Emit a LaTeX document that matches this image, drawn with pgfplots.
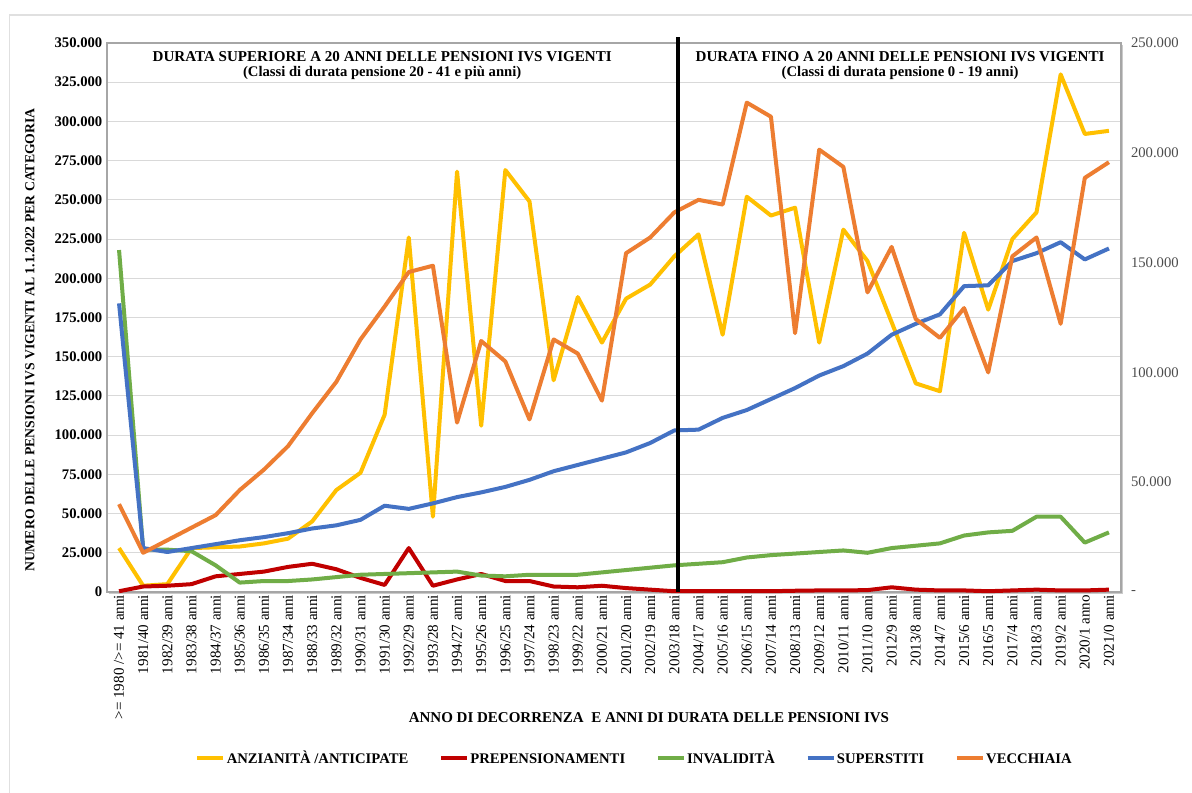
\documentclass[border=0pt]{standalone}
\usepackage{fontspec}
\setmainfont{Liberation Serif}
\usepackage{pgfplots}
\usepackage{pgfplotstable}
\pgfplotsset{compat=1.18}
\usetikzlibrary{shadows}

\definecolor{cAnz}{HTML}{FFC000}
\definecolor{cPre}{HTML}{C00000}
\definecolor{cInv}{HTML}{70AD47}
\definecolor{cSup}{HTML}{4472C4}
\definecolor{cVec}{HTML}{ED7D31}
\definecolor{cGrid}{HTML}{D9D9D9}
\definecolor{cFrame}{HTML}{A6A6A6}

% numero pensioni vigenti (migliaia) per anno di decorrenza
\pgfplotstableread{
i  anz  pre  inv  sup   vec
0  28   0.5  218  184   56
1  4    3.5  27   28    25
2  5    4    27   25.5  33
3  28   5    26   28    41
4  28.5 10   17   30.5  49
5  29   11.5 6    33    65
6  31   13   7    35    78
7  34   16   7    37.5  93
8  45   18   8    40.5  114
9  65   14.5 9.5  42.5  134
10 76   9    11   46    161
11 113  4.5  11.5 55    182
12 226  28   12   53    204
13 48   4    12.5 56.5  208
14 268  8    13   60.5  108
15 106  11.5 10.5 63.5  160
16 269  7    10   67    147
17 249  7    11   71.5  110
18 135  3.5  11   77    161
19 188  3    11   81    152
20 159  4    12.5 85    122
21 187  2.5  14   89    216
22 196  1.5  15.5 95    226
23 214  0.5  17   103   242
24 228  0.5  18   103.5 250
25 164  0.5  19   111   247
26 252  0.5  22   116   312
27 240  0.5  23.5 123   303
28 245  0.8  24.5 130   165
29 159  1    25.5 138   282
30 231  1    26.5 144   271
31 211  1.2  25   152   191
32 172  3    28   164   220
33 133  1.5  29.5 171   174
34 128  1    31   177   162
35 229  1    36   195   181
36 180  0.5  38   195.5 140
37 225  1    39   211   214
38 242  1.5  48   216   226
39 330  1    48   223   171
40 292  1    31.5 212   264
41 294  1.5  38   219   274
}\ivs

\begin{document}
\begin{tikzpicture}
\begin{axis}[
  name=main,
  scale only axis, width=760.5pt, height=411.75pt,
  xmin=-0.5, xmax=41.5, ymin=0, ymax=350,
  clip=false,
  axis background/.style={fill=white,
    drop shadow={shadow xshift=1.8pt, shadow yshift=-1.8pt, fill=black!35, opacity=0.6}},
  axis line style={draw=cFrame, line width=1.1pt},
  ymajorgrids, grid style={cGrid, line width=0.8pt},
  major tick length=0pt,
  ytick={0,25,...,350},
  yticklabels={0,25.000,50.000,75.000,100.000,125.000,150.000,175.000,200.000,225.000,250.000,275.000,300.000,325.000,350.000},
  yticklabel style={font=\bfseries\fontsize{11}{12}\selectfont},
  xtick={0,...,41},
  xticklabels={{>= 1980 />= 41 anni},1981/40 anni,1982/39 anni,1983/38 anni,1984/37 anni,1985/36 anni,1986/35 anni,1987/34 anni,1988/33 anni,1989/32 anni,1990/31 anni,1991/30 anni,1992/29 anni,1993/28 anni,1994/27 anni,1995/26 anni,1996/25 anni,1997/24 anni,1998/23 anni,1999/22 anni,2000/21 anni,2001/20 anni,2002/19 anni,2003/18 anni,2004/17 anni,2005/16 anni,2006/15 anni,2007/14 anni,2008/13 anni,2009/12 anni,2010/11 anni,2011/10 anni,2012/9 anni,2013/8 anni,2014/7 anni,2015/6 anni,2016/5 anni,2017/4 anni,2018/3 anni,2019/2 anni,2020/1 anno,2021/0 anni},
  xticklabel style={rotate=90, anchor=east, font=\fontsize{11.3}{12}\selectfont, inner sep=2pt},
  legend columns=5,
  legend style={at={(0.52,-0.302)}, anchor=center, draw=none, fill=none,
    font=\bfseries\fontsize{11}{12}\selectfont,
    nodes={inner xsep=1pt},
    /tikz/every even column/.append style={column sep=22pt}},
  legend cell align=left,
  legend image code/.code={\draw[#1, line width=3pt] (0pt,0pt) -- (19.5pt,0pt);},
  every axis plot/.append style={line width=3pt, line join=round},
]
\addplot[cAnz] table[x=i, y=anz] {\ivs};
\addlegendentry{\vphantom{À}ANZIANITÀ /ANTICIPATE}
\addplot[cPre] table[x=i, y=pre] {\ivs};
\addlegendentry{\vphantom{À}PREPENSIONAMENTI}
\addplot[cInv] table[x=i, y=inv] {\ivs};
\addlegendentry{\vphantom{À}INVALIDITÀ}
\addplot[cSup] table[x=i, y=sup] {\ivs};
\addlegendentry{\vphantom{À}SUPERSTITI}
\addplot[cVec] table[x=i, y=vec] {\ivs};
\addlegendentry{\vphantom{À}VECCHIAIA}

\draw[black, line width=2.4pt] (axis cs:23.15,0) -- (axis cs:23.15,354);
\node[align=center, font=\bfseries\fontsize{11}{11.3}\selectfont] at (axis cs:10.9,335.8)
  {{\fontsize{11.3}{11.3}\selectfont DURATA SUPERIORE A 20 ANNI DELLE PENSIONI IVS VIGENTI}\\(Classi di durata pensione 20 - 41 e più anni)};
\node[align=center, font=\bfseries\fontsize{11}{11.3}\selectfont] at (axis cs:32.35,335.8)
  {{\fontsize{11.3}{11.3}\selectfont DURATA FINO A 20 ANNI DELLE PENSIONI IVS VIGENTI}\\(Classi di durata pensione 0 - 19 anni)};

\node[rotate=90, font=\bfseries\fontsize{10.3}{12}\selectfont] at (axis description cs:-0.0759,0.459)
  {NUMERO DELLE PENSIONI IVS VIGENTI AL 1.1.2022 PER CATEGORIA};
\node[font=\bfseries\fontsize{11.25}{12}\selectfont] at (axis description cs:0.5345,-0.2295)
  {ANNO DI DECORRENZA\ \ E ANNI DI DURATA DELLE PENSIONI IVS};

\draw[black!12, line width=0.8pt] (axis description cs:-0.0957,-0.37)
  -- (axis description cs:-0.0957,1.051) -- (axis description cs:1.08,1.051);
\coordinate (BL) at (axis description cs:-0.1055,-0.3643);
\coordinate (TR) at (axis description cs:1.0700,1.0783);
\end{axis}

\begin{axis}[
  scale only axis, width=760.5pt, height=411.75pt,
  xmin=-0.5, xmax=41.5, ymin=0, ymax=250,
  axis y line*=right, axis x line=none,
  axis line style={draw=none},
  major tick length=0pt,
  ytick={0,50,...,250},
  yticklabels={-,50.000,100.000,150.000,200.000,250.000},
  yticklabel style={font=\fontsize{11}{12}\selectfont, text=black!70, xshift=4pt},
]
\addplot[draw=none] coordinates {(0,0)};
\end{axis}

\pgfresetboundingbox
\path (BL) rectangle (TR);
\end{tikzpicture}
\end{document}
